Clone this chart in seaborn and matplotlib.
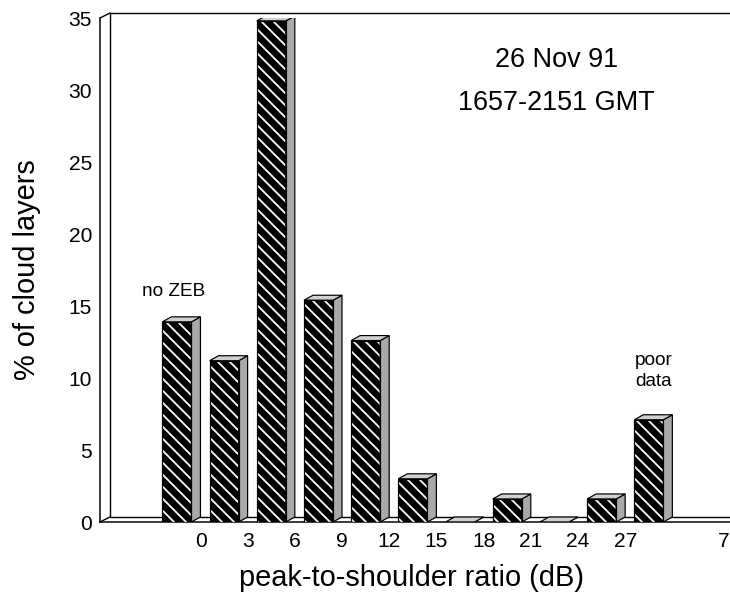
import numpy as np
import pandas as pd
import matplotlib
matplotlib.use("Agg")
import matplotlib.pyplot as plt
import seaborn as sns
from matplotlib.patches import Polygon

# ---- data ----
bins = ["no ZEB", "0-3", "3-6", "6-9", "9-12", "12-15", "15-18",
        "18-21", "21-24", "24-27", "poor data"]
pct = [13.9, 11.2, 34.8, 15.4, 12.6, 3.0, 0.0, 1.6, 0.0, 1.6, 7.1]
xtick_labels = ["0", "3", "6", "9", "12", "15", "18", "21", "24", "27", "7"]
ytick_values = [0, 5, 10, 15, 20, 25, 30, 35]

sns.set_style("white")
plt.rcParams["font.family"] = ["Liberation Sans", "DejaVu Sans"]
plt.rcParams["hatch.color"] = "white"
plt.rcParams["hatch.linewidth"] = 1.8

W, H = 730, 595
fig = plt.figure(figsize=(W / 72, H / 72), dpi=72)
ax = fig.add_axes([100 / W, 1 - 522 / H, 630 / W, 504 / H])

df = pd.DataFrame({"bin": bins, "pct": pct})
sns.barplot(data=df, x="bin", y="pct", order=bins, color="black",
            saturation=1, width=0.615, errorbar=None, hatch="\\\\",
            edgecolor="white", linewidth=0, ax=ax, zorder=3)

xlim = (-1.63, 11.72)
ylim = (0, 35)
ax.set_xlim(*xlim)
ax.set_ylim(*ylim)

px_x = 630 / (xlim[1] - xlim[0])
px_y = 504 / (ylim[1] - ylim[0])

# 3-D look for bars
bdx, bdy = 9 / px_x, 5 / px_y
for p in list(ax.patches):
    x, w, h = p.get_x(), p.get_width(), p.get_height()
    side = Polygon([(x + w, 0), (x + w, h), (x + w + bdx, h + bdy),
                    (x + w + bdx, bdy)], closed=True, facecolor="#a9a9a9",
                   edgecolor="black", linewidth=1.2, zorder=3)
    top = Polygon([(x, h), (x + w, h), (x + w + bdx, h + bdy),
                   (x + bdx, h + bdy)], closed=True, facecolor="#d0d0d0",
                  edgecolor="black", linewidth=1.2, zorder=3)
    front = Polygon([(x, 0), (x, h), (x + w, h), (x + w, 0)], closed=True,
                    fill=False, edgecolor="black", linewidth=1.2, zorder=3)
    ax.add_patch(side)
    ax.add_patch(top)
    ax.add_patch(front)

# back wall / floor of the 3-D frame
wdx, wdy = 10 / px_x, 5 / px_y
x0, x1 = xlim
kw = dict(color="black", linewidth=1.4, clip_on=False, zorder=2)
ax.plot([x0, x0 + wdx], [0, wdy], **kw)
ax.plot([x0, x0 + wdx], [35, 35 + wdy], **kw)
ax.plot([x0 + wdx, x0 + wdx], [wdy, 35 + wdy], **kw)
ax.plot([x0 + wdx, x1 + wdx], [35 + wdy, 35 + wdy], **kw)
ax.plot([x0 + wdx, x1], [wdy, wdy], **kw)

for s in ["top", "right"]:
    ax.spines[s].set_visible(False)
for s in ["left", "bottom"]:
    ax.spines[s].set_color("black")
    ax.spines[s].set_linewidth(1.5)

xt = list(np.arange(10) + 0.5) + [11.59]
ax.set_xticks(xt)
ax.set_xticklabels(xtick_labels)
ax.set_yticks(ytick_values)
ax.set_yticklabels([str(v) for v in ytick_values])
ax.tick_params(axis="both", direction="out", length=5, width=1.2,
               color="black", labelsize=21, labelcolor="black")
ax.tick_params(axis="x", pad=5)
ax.tick_params(axis="y", pad=3)

ax.set_xlabel("peak-to-shoulder ratio (dB)", fontsize=29, color="black")
ax.set_ylabel("% of cloud layers", fontsize=29, color="black")
ax.xaxis.label.set_va("center")
ax.yaxis.label.set_va("center")
ax.xaxis.set_label_coords(0.495, -0.111)
ax.yaxis.set_label_coords(-0.116, 0.5)

ax.text(-0.08, 16.0, "no ZEB", fontsize=19, ha="center", va="center",
        color="black")
ax.text(10.1, 10.5, "poor\ndata", fontsize=19, ha="center", va="center",
        linespacing=1.3, color="black")
ax.text(8.05, 32.1, "26 Nov 91", fontsize=27, ha="center", va="center",
        color="black")
ax.text(8.05, 29.1, "1657-2151 GMT", fontsize=27, ha="center", va="center",
        color="black")

fig.savefig("out.png", dpi=72, facecolor="white")
